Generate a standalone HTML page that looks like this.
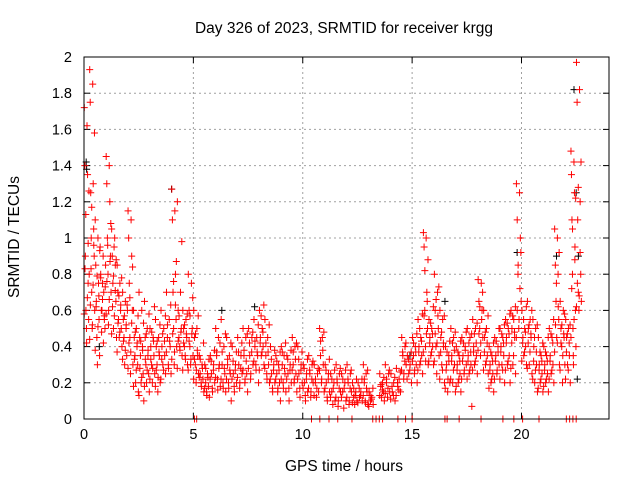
<!DOCTYPE html>
<html><head><meta charset="utf-8">
<style>
html,body{margin:0;padding:0;background:#fff;}
svg{display:block;font-family:"Liberation Sans",Arial,sans-serif;}
</style></head>
<body>
<svg id="chart" width="640" height="480" viewBox="0 0 640 480">
  <rect x="0" y="0" width="640" height="480" fill="#fff"/>
  <text x="344" y="33" text-anchor="middle" font-size="15.5">Day 326 of 2023, SRMTID for receiver krgg</text>
  <text x="344" y="471" text-anchor="middle" font-size="15.5">GPS time / hours</text>
  <text x="0" y="0" transform="translate(19,237) rotate(-90)" text-anchor="middle" font-size="15.5">SRMTID / TECUs</text>
  <g id="grid"></g>
  <g id="ticks"></g>
  <g id="black-series"></g>
  <g id="red-series"></g>
  <rect x="84" y="57" width="525" height="362" fill="none" stroke="#000" stroke-width="1"/>
</svg>
<script>
const xTicks = [0, 5, 10, 15, 20];
const yTicks = [0, 0.2, 0.4, 0.6, 0.8, 1, 1.2, 1.4, 1.6, 1.8, 2];
const yTickLabels = ["0","0.2","0.4","0.6","0.8","1","1.2","1.4","1.6","1.8","2"];
const redBinStart = [0,0.25,0.5,0.75,1,1.25,1.5,1.75,2,2.25,2.5,2.75,3,3.25,3.5,3.75,4,4.25,4.5,4.75,5,5.25,5.5,5.75,6,6.25,6.5,6.75,7,7.25,7.5,7.75,8,8.25,8.5,8.75,9,9.25,9.5,9.75,10,10.25,10.5,10.75,11,11.25,11.5,11.75,12,12.25,12.5,12.75,13,13.5,13.75,14,14.25,14.5,14.75,15,15.25,15.5,15.75,16,16.25,16.5,16.75,17,17.25,17.5,17.75,18,18.25,18.5,18.75,19,19.25,19.5,19.75,20,20.25,20.5,20.75,21,21.25,21.5,21.75,22,22.25,22.5];
const redBinValues = [
[1.72,1.62,1.4,1.35,0.9,0.75,0.6,0.55,0.5,0.8],
[1.93,1.85,1.75,1.3,1.25,1.05,1.0,0.9,0.7,0.6,0.5],
[1.1,1.0,0.85,0.75,0.65,0.55,0.45,0.35,0.3,0.95],
[0.8,0.7,0.6,0.55,0.6,0.5,0.75,0.85,0.9],
[1.45,1.4,1.3,1.2,1.0,0.9,0.8,0.7,0.6],
[1.05,1.0,0.9,0.85,0.75,0.65,0.5,0.45,0.95],
[0.85,0.75,0.7,0.6,0.55,0.5,0.45,0.4],
[0.7,0.65,0.55,0.5,0.45,0.35,0.3,0.6],
[1.15,1.1,1.0,0.9,0.75,0.6,0.45,0.3,0.25],
[0.6,0.5,0.45,0.4,0.35,0.3,0.2,0.15],
[0.7,0.6,0.45,0.4,0.35,0.25,0.2,0.1],
[0.65,0.5,0.45,0.35,0.3,0.25,0.2,0.15],
[0.5,0.45,0.4,0.35,0.3,0.25,0.2],
[0.55,0.45,0.4,0.35,0.3,0.2,0.15],
[0.6,0.5,0.4,0.35,0.3,0.25],
[0.7,0.55,0.45,0.4,0.3,0.25],
[1.27,1.15,1.1,0.8,0.7,0.55,0.5,0.4,0.3],
[1.2,0.7,0.6,0.5,0.45,0.35,0.4],
[0.6,0.55,0.5,0.45,0.4,0.3,0.35],
[0.8,0.75,0.6,0.5,0.4,0.35,0.3],
[0.6,0.5,0.45,0.35,0.3,0.25,0.2],
[0.35,0.3,0.25,0.22,0.2,0.15],
[0.3,0.25,0.2,0.18,0.15,0.12],
[0.35,0.3,0.25,0.2,0.15],
[0.5,0.45,0.35,0.3,0.22,0.18],
[0.55,0.4,0.3,0.25,0.2,0.15],
[0.45,0.35,0.3,0.25,0.2,0.1],
[0.4,0.3,0.25,0.2,0.15],
[0.45,0.35,0.3,0.25,0.2],
[0.5,0.45,0.35,0.25,0.2,0.15],
[0.5,0.45,0.35,0.3,0.25],
[0.55,0.45,0.4,0.35,0.3,0.2],
[0.6,0.5,0.45,0.4,0.35,0.3],
[0.55,0.45,0.35,0.3,0.25,0.2],
[0.4,0.3,0.25,0.2,0.15],
[0.35,0.3,0.25,0.2,0.15,0.1],
[0.4,0.35,0.3,0.25,0.2,0.15],
[0.35,0.3,0.25,0.2,0.1],
[0.45,0.4,0.3,0.25,0.2,0.15],
[0.4,0.3,0.25,0.2,0.12],
[0.3,0.25,0.2,0.15,0.1],
[0.35,0.3,0.25,0.2,0.15],
[0.3,0.25,0.2,0.15,0.12],
[0.5,0.45,0.35,0.3,0.2,0.15],
[0.3,0.25,0.2,0.15,0.1],
[0.25,0.2,0.15,0.1,0.08],
[0.3,0.25,0.2,0.15,0.1],
[0.25,0.2,0.15,0.1,0.06],
[0.3,0.25,0.2,0.15,0.1],
[0.2,0.15,0.12,0.1,0.08],
[0.2,0.15,0.12,0.1],
[0.3,0.25,0.2,0.15,0.1,0.08],
[0.15,0.12,0.1,0.08],
[0.25,0.2,0.18,0.15,0.12,0.1],
[0.3,0.25,0.2,0.15,0.12],
[0.25,0.2,0.15,0.1],
[0.28,0.22,0.18,0.15],
[0.45,0.4,0.35,0.3,0.25],
[0.35,0.3,0.25,0.2],
[0.45,0.4,0.35,0.3,0.25,0.2],
[0.55,0.45,0.4,0.35,0.3,0.25],
[1.03,1.0,0.95,0.7,0.6,0.5,0.4,0.3],
[0.55,0.5,0.45,0.4,0.35,0.3],
[0.8,0.7,0.6,0.5,0.4,0.35,0.25],
[0.6,0.55,0.45,0.4,0.3,0.2],
[0.4,0.35,0.3,0.2,0.15],
[0.5,0.45,0.35,0.3,0.2,0.15],
[0.4,0.35,0.3,0.25,0.2,0.15],
[0.45,0.4,0.35,0.3,0.25],
[0.5,0.45,0.35,0.3,0.25,0.07],
[0.55,0.5,0.4,0.35,0.3,0.25],
[0.77,0.75,0.65,0.6,0.5,0.45,0.35],
[0.6,0.5,0.45,0.35,0.3,0.25],
[0.4,0.35,0.3,0.25,0.2,0.15],
[0.45,0.4,0.35,0.3,0.25],
[0.5,0.45,0.4,0.35,0.3,0.2],
[0.55,0.5,0.45,0.35,0.3,0.2],
[0.6,0.55,0.5,0.45,0.3,0.25],
[1.3,1.25,1.1,1.0,0.8,0.65,0.5],
[0.6,0.5,0.45,0.4,0.35,0.3],
[0.65,0.55,0.5,0.45,0.3,0.25],
[0.55,0.5,0.4,0.3,0.2,0.15],
[0.45,0.35,0.3,0.25,0.2,0.15],
[0.4,0.35,0.3,0.25,0.2,0.15],
[0.5,0.45,0.35,0.3,0.25,0.2],
[1.05,1.0,0.85,0.8,0.65,0.55,0.45,0.3],
[0.65,0.6,0.5,0.45,0.4,0.3,0.2],
[0.55,0.5,0.45,0.35,0.3,0.2],
[1.48,1.42,1.35,1.25,1.1,0.95,0.8,0.6,0.5,0.4,0.3],
[1.97,1.82,1.75,1.2,1.1,0.8,0.7,0.65,0.6]
];
const redBinValuesB = [
[1.26,1.13,0.97,0.83,0.67,0.58,0.42],
[1.58,1.17,0.96,0.83,0.74,0.63,0.52,0.44],
[0.93,0.79,0.68,0.62,0.51,0.38],
[0.73,0.66,0.57,0.48,0.42,0.78],
[1.08,0.96,0.87,0.76,0.66,0.58,0.52],
[0.88,0.79,0.71,0.62,0.57,0.47],
[0.78,0.68,0.63,0.53,0.48,0.37],
[0.63,0.57,0.52,0.43,0.38,0.33],
[0.84,0.67,0.53,0.42,0.37,0.28],
[0.57,0.48,0.42,0.33,0.27,0.18],
[0.53,0.43,0.38,0.28,0.23,0.13],
[0.58,0.47,0.38,0.33,0.27,0.18],
[0.62,0.48,0.43,0.33,0.28,0.22],
[0.52,0.43,0.37,0.27,0.23,0.18],
[0.57,0.47,0.43,0.33,0.27,0.22],
[0.63,0.52,0.43,0.37,0.28],
[0.87,0.76,0.63,0.47,0.37,0.33],
[0.98,0.57,0.48,0.43,0.38,0.28],
[0.58,0.52,0.47,0.42,0.33,0.27],
[0.67,0.57,0.47,0.43,0.33,0.27],
[0.57,0.47,0.38,0.33,0.27,0.22],
[0.42,0.33,0.28,0.23,0.18],
[0.33,0.28,0.23,0.17,0.13],
[0.38,0.32,0.27,0.22,0.17],
[0.42,0.37,0.28,0.23,0.16],
[0.47,0.37,0.28,0.22,0.17],
[0.42,0.33,0.27,0.22,0.17],
[0.37,0.32,0.27,0.22,0.18],
[0.42,0.37,0.28,0.23,0.17],
[0.47,0.38,0.32,0.27,0.22],
[0.48,0.42,0.37,0.28,0.22],
[0.52,0.43,0.37,0.32,0.27],
[0.63,0.57,0.48,0.42,0.37,0.27],
[0.52,0.42,0.37,0.28,0.22],
[0.38,0.33,0.27,0.22,0.17],
[0.37,0.32,0.27,0.22,0.17],
[0.42,0.37,0.28,0.22,0.17],
[0.38,0.33,0.27,0.22,0.17],
[0.42,0.37,0.33,0.27,0.22],
[0.37,0.33,0.27,0.22,0.17],
[0.33,0.28,0.22,0.17,0.13],
[0.32,0.27,0.22,0.17,0.12],
[0.28,0.22,0.17,0.13],
[0.48,0.43,0.38,0.27,0.22],
[0.33,0.27,0.22,0.17,0.12],
[0.27,0.22,0.17,0.12],
[0.28,0.22,0.17,0.12,0.07],
[0.27,0.22,0.17,0.12],
[0.27,0.22,0.17,0.12,0.08],
[0.22,0.17,0.13,0.09],
[0.22,0.17,0.13,0.09],
[0.27,0.22,0.17,0.13,0.09],
[0.17,0.13,0.11,0.07],
[0.23,0.19,0.16,0.13],
[0.27,0.22,0.17,0.14],
[0.23,0.18,0.13,0.11],
[0.26,0.2,0.16,0.13],
[0.42,0.37,0.32,0.27,0.22],
[0.37,0.33,0.27,0.22],
[0.47,0.42,0.37,0.32,0.27],
[0.58,0.5,0.43,0.37,0.32,0.27],
[0.88,0.82,0.65,0.57,0.47,0.37,0.32],
[0.62,0.53,0.47,0.42,0.37,0.32],
[0.73,0.66,0.57,0.47,0.42,0.32],
[0.57,0.48,0.42,0.37,0.27,0.22],
[0.43,0.37,0.32,0.27,0.22,0.17],
[0.48,0.42,0.38,0.32,0.27,0.22],
[0.43,0.37,0.32,0.27,0.22,0.18],
[0.48,0.42,0.38,0.32,0.27,0.22],
[0.47,0.42,0.37,0.32,0.27,0.22],
[0.53,0.47,0.42,0.37,0.32,0.27],
[0.7,0.62,0.55,0.47,0.42,0.38],
[0.57,0.48,0.42,0.37,0.32,0.27],
[0.42,0.37,0.32,0.27,0.22,0.17],
[0.5,0.43,0.37,0.32,0.27,0.22],
[0.52,0.47,0.42,0.37,0.27,0.22],
[0.58,0.53,0.47,0.42,0.32,0.27],
[0.62,0.57,0.48,0.42,0.35,0.28],
[0.92,0.85,0.72,0.6,0.55,0.45],
[0.62,0.55,0.48,0.42,0.37,0.32],
[0.6,0.52,0.47,0.42,0.37,0.28],
[0.52,0.45,0.37,0.32,0.27,0.22],
[0.42,0.37,0.32,0.27,0.22,0.17],
[0.45,0.37,0.32,0.27,0.22,0.18],
[0.55,0.47,0.42,0.32,0.27,0.22],
[0.92,0.75,0.62,0.52,0.42,0.37],
[0.58,0.52,0.47,0.42,0.35,0.27],
[0.52,0.47,0.42,0.37,0.27,0.22],
[1.22,1.05,0.88,0.72,0.55,0.45,0.35],
[1.42,1.28,0.92,0.75,0.68,0.62]
];
const redZeroTimes = [5.05,5.15,10.4,10.78,11.2,11.6,12.25,13.2,13.35,13.5,13.65,14.35,14.7,15.0,16.5,16.6,17.15,18.15,19.15,19.65,20.05,20.8,22.05,22.2,22.35,22.5];
const blackTimes = [0.1,0.12,0.7,4.0,6.3,7.8,14.9,16.5,19.8,21.6,22.4,22.5,22.6,22.55];
const blackValues = [1.42,1.38,0.4,1.27,0.6,0.62,0.35,0.65,0.92,0.9,1.82,1.25,0.9,0.22];

const X0 = 84, X1 = 609, Y0 = 419, Y1 = 57;
const xMax = 24, yMax = 2;
function xs(v){ return X0 + (v / xMax) * (X1 - X0); }
function ys(v){ return Y0 - (v / yMax) * (Y0 - Y1); }
const NS = "http://www.w3.org/2000/svg";
function mk(tag, attrs, parent){
  const e = document.createElementNS(NS, tag);
  for (const k in attrs) e.setAttribute(k, attrs[k]);
  parent.appendChild(e); return e;
}
const grid = document.getElementById('grid');
const ticks = document.getElementById('ticks');
xTicks.forEach((t) => {
  const x = xs(t);
  if (t > 0) {
    const g = mk('line', {x1:x, y1:Y1, x2:x, y2:Y0, stroke:'#a0a0a0', 'stroke-dasharray':'2,3', 'stroke-width':1}, grid);
    
    
  }
  const a = mk('line', {x1:x, y1:Y0, x2:x, y2:Y0-6, stroke:'#000'}, ticks);
  
  
  const b = mk('line', {x1:x, y1:Y1, x2:x, y2:Y1+6, stroke:'#000'}, ticks);
  
  
  const l = mk('text', {x:x, y:Y0+20, 'text-anchor':'middle', 'font-size':14.5}, ticks);
  l.textContent = String(t);
  
  
});
yTicks.forEach((t, i) => {
  const y = ys(t);
  if (t > 0 && t < yMax) {
    const g = mk('line', {x1:X0, y1:y, x2:X1, y2:y, stroke:'#a0a0a0', 'stroke-dasharray':'2,3', 'stroke-width':1}, grid);
    
    
  }
  const a = mk('line', {x1:X0, y1:y, x2:X0+6, y2:y, stroke:'#000'}, ticks);
  
  
  const b = mk('line', {x1:X1, y1:y, x2:X1-6, y2:y, stroke:'#000'}, ticks);
  
  
  const l = mk('text', {x:X0-12, y:y+5, 'text-anchor':'end', 'font-size':14.5}, ticks);
  l.textContent = yTickLabels[i];
  
  
});
function plus(parent, t, v, color, name){
  const x = xs(t), y = ys(v);
  const p = mk('path', {d:`M${x-3.5},${y}H${x+3.5}M${x},${y-3.5}V${y+3.5}`, stroke:color, 'stroke-width':1, fill:'none'}, parent);
  
  
}
function slot(k, n){
  return (k % 2 === 0) ? k / 2 : Math.ceil(n / 2) + (k - 1) / 2;
}
const black = document.getElementById('black-series');
blackTimes.forEach((t, i) => plus(black, t, blackValues[i], '#000', 'black-point'));
const red = document.getElementById('red-series');
redBinStart.forEach((t0, i) => {
  const vals = redBinValues[i];
  vals.forEach((v, k) => {
    plus(red, t0 + (slot(k, vals.length) + 0.5) * 0.25 / vals.length, v, '#ff0000', 'red-point');
  });
  const valsB = redBinValuesB[i];
  valsB.forEach((v, k) => {
    plus(red, t0 + (valsB.length - 1 - slot(k, valsB.length) + 0.3) * 0.25 / valsB.length, v, '#ff0000', 'red-point');
  });
});
redZeroTimes.forEach((t) => plus(red, t, 0, '#ff0000', 'red-zero-point'));
</script>
</body></html>
